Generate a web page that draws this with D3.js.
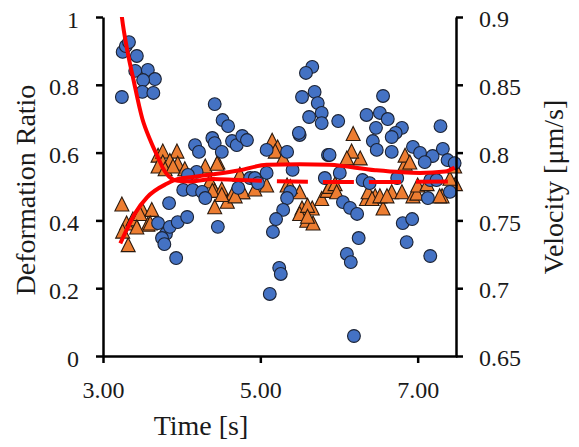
<!DOCTYPE html>
<html><head>
<meta charset="utf-8">
<script src="https://d3js.org/d3.v7.min.js"></script>
<style>
  body { margin: 0; background: #fff; }
  text { font-family: "Liberation Serif", "Times New Roman", serif; fill: #1a1a1a; }
  .axis path, .axis line { stroke: #000; stroke-width: 2.5; }
</style>
</head>
<body>
<svg id="chart" width="579" height="447"></svg>
<script>

// Deformation ratio (left axis), blue circles: [time, ratio]
const ratioPoints = [
  [3.24,0.764],[3.25,0.897],[3.29,0.914],[3.33,0.926],[3.43,0.885],[3.41,0.841],[3.57,0.844],[3.66,0.817],
  [3.51,0.814],[3.50,0.779],[3.64,0.776],
  [4.42,0.743],[4.52,0.696],[4.59,0.678],[4.17,0.622],[4.22,0.602],[4.39,0.643],[4.42,0.628],[4.51,0.602],
  [4.64,0.634],[4.70,0.622],[4.77,0.649],[4.83,0.637],[5.08,0.608],[5.34,0.602],[5.50,0.652],
  [5.66,0.853],[5.58,0.835],[5.53,0.764],[5.69,0.779],[5.73,0.746],[5.78,0.717],[5.62,0.705],[5.78,0.687],
  [5.99,0.693],[5.49,0.658],[5.86,0.593],
  [6.56,0.767],[6.35,0.711],[6.52,0.717],[6.62,0.699],[6.47,0.673],[6.80,0.673],[6.72,0.658],[6.67,0.646],
  [6.43,0.634],[6.48,0.608],[6.67,0.602],[7.29,0.678],[6.94,0.617],[7.03,0.599],[7.19,0.590],[7.32,0.611],
  [7.09,0.572],[7.38,0.578],[7.47,0.569],
  [4.19,0.543],[4.08,0.534],[4.02,0.490],[4.14,0.490],[4.26,0.484],[4.30,0.466],[3.84,0.451],[3.70,0.392],
  [3.80,0.360],[3.75,0.348],[3.78,0.330],[3.85,0.381],[3.95,0.395],[4.07,0.410],[3.93,0.289],[4.46,0.381],
  [4.72,0.496],[4.87,0.525],[4.93,0.525],[4.97,0.510],[5.08,0.540],[5.41,0.549],[5.38,0.484],[5.34,0.466],
  [5.29,0.431],[5.20,0.404],[5.16,0.366],[5.24,0.260],[5.26,0.242],[5.12,0.183],
  [5.82,0.525],[6.01,0.540],[6.30,0.519],[6.39,0.510],[6.05,0.454],[6.14,0.437],[6.23,0.419],[6.25,0.348],
  [6.10,0.301],[6.15,0.277],[6.19,0.059],[6.81,0.392],[6.93,0.404],[6.86,0.336],[7.16,0.295],[6.74,0.525],
  [7.16,0.519],[7.24,0.519],[7.41,0.484],[7.13,0.466],[5.88,0.593]
];

// Velocity (right axis), orange triangles: [time, um/s]
const velocityPoints = [
  [3.24,0.761],[3.50,0.757],[3.62,0.757],[3.30,0.747],[3.38,0.750],[3.47,0.754],[3.57,0.746],[3.32,0.731],
  [3.25,0.741],[3.43,0.744],[3.60,0.747],
  [3.70,0.797],[3.76,0.800],[3.94,0.800],[3.76,0.792],[3.85,0.793],[3.95,0.791],[4.04,0.787],[3.70,0.789],
  [3.79,0.787],[3.89,0.789],
  [4.36,0.778],[4.42,0.771],[4.42,0.759],[4.46,0.792],[4.51,0.772],[4.58,0.763],[4.65,0.769],[4.77,0.770],
  [4.30,0.789],[4.39,0.771],[4.45,0.791],
  [5.15,0.808],[5.22,0.803],[5.19,0.800],[5.29,0.795],[4.51,0.768],[4.74,0.783],[4.78,0.770],[4.68,0.767],
  [5.08,0.775],[5.34,0.775],[5.50,0.770],[5.53,0.758],[5.66,0.758],[5.59,0.749],[5.67,0.747],[5.78,0.765],
  [5.50,0.754],[5.38,0.774],[5.60,0.760],[5.60,0.752],[5.85,0.771],[5.88,0.774],[4.93,0.772],
  [6.35,0.765],[6.46,0.767],[6.56,0.758],[6.67,0.770],[6.80,0.770],[6.94,0.767],[7.31,0.767],[7.48,0.776],
  [6.84,0.791],[6.27,0.795],[6.18,0.813],[6.16,0.800],[6.10,0.795],[5.95,0.776],[5.97,0.770],[6.37,0.770],
  [6.42,0.765],[6.52,0.767],[6.61,0.767],[6.99,0.769],[7.00,0.775],[7.12,0.776],[7.28,0.767],[7.41,0.780],
  [7.47,0.789],[6.84,0.797],[6.90,0.792]
];

// fitted trend lines
const ratioFit = [
  [3.22,1.04],[3.24,1.0],[3.31,0.90],[3.38,0.823],[3.50,0.70],[3.60,0.637],[3.70,0.585],[3.76,0.555],
  [3.86,0.525],[3.95,0.517],[4.10,0.515],[4.40,0.522],[4.70,0.519],[5.02,0.517]
];
const ratioFitTail = [[5.02,0.517],[5.60,0.514],[6.30,0.513],[7.00,0.514],[7.45,0.515]];
const velocityFit = [
  [3.22,0.733],[3.30,0.743],[3.41,0.7555],[3.56,0.767],[3.81,0.777],[3.98,0.781],[4.14,0.782],[4.40,0.784],
  [4.74,0.787],[5.08,0.791],[5.50,0.7915],[5.88,0.791],[6.46,0.787],[7.03,0.785],[7.35,0.786],[7.47,0.789]
];

const timeTicks = [3, 5, 7];
const ratioTicks = [0, 0.2, 0.4, 0.6, 0.8, 1];
const velocityTicks = [0.65, 0.7, 0.75, 0.8, 0.85, 0.9];

const svg = d3.select("#chart");
const plot = {left: 103, right: 457, top: 17, bottom: 356};

const x = d3.scaleLinear().domain([3, 7.5]).range([plot.left, plot.right]);
const yL = d3.scaleLinear().domain([0, 1]).range([plot.bottom, plot.top]);
const yR = d3.scaleLinear().domain([0.65, 0.9]).range([plot.bottom, plot.top]);

svg.append("clipPath").attr("id", "clip")
  .append("rect")
  .attr("x", plot.left).attr("y", plot.top)
  .attr("width", plot.right - plot.left).attr("height", plot.bottom - plot.top);

// markers: triangles first, circles on top
const marks = svg.append("g");

const triShape = "M0,-8.5L7,5.5L-7,5.5Z";
marks.selectAll("path.tri")
  .data(velocityPoints)
  .join("path")
  .attr("class", "tri")
  .attr("d", triShape)
  .attr("transform", d => "translate(" + x(d[0]) + "," + yR(d[1]) + ")")
  .style("fill", "#ED7D31")
  .style("stroke", "#2b1a0e")
  .style("stroke-width", 1.1);

marks.selectAll("circle")
  .data(ratioPoints)
  .join("circle")
  .attr("cx", d => x(d[0]))
  .attr("cy", d => yL(d[1]))
  .attr("r", 6.4)
  .style("fill", "#4472C4")
  .style("stroke", "#1b2233")
  .style("stroke-width", 1.1);

// trend lines
const lines = svg.append("g").attr("clip-path", "url(#clip)");
const lineL = d3.line().x(d => x(d[0])).y(d => yL(d[1])).curve(d3.curveMonotoneX);
const lineR = d3.line().x(d => x(d[0])).y(d => yR(d[1])).curve(d3.curveMonotoneX);

lines.append("path").attr("d", lineL(ratioFit))
  .style("fill", "none").style("stroke", "#FF0000").style("stroke-width", 4);
lines.append("path").attr("d", lineL(ratioFitTail))
  .style("fill", "none").style("stroke", "#FF0000").style("stroke-width", 4)
  .style("stroke-dasharray", "0,15,31,15,31,15,32,15,32,16,30");
lines.append("path").attr("d", lineR(velocityFit))
  .style("fill", "none").style("stroke", "#FF0000").style("stroke-width", 4);

// axes
const fontSize = 24;

const leftAxis = svg.append("g").attr("class", "axis")
  .attr("transform", "translate(" + plot.left + ",0)")
  .call(d3.axisLeft(yL).tickValues(ratioTicks).tickSize(7).tickSizeOuter(0)
        .tickPadding(17).tickFormat(d3.format("")));

const rightAxis = svg.append("g").attr("class", "axis")
  .attr("transform", "translate(" + (plot.right - 1) + ",0)")
  .call(d3.axisRight(yR).tickValues(velocityTicks).tickSize(7).tickSizeOuter(0)
        .tickPadding(16).tickFormat(d3.format("")));

const bottomAxis = svg.append("g").attr("class", "axis")
  .attr("transform", "translate(0," + plot.bottom + ")")
  .call(d3.axisBottom(x).tickValues(timeTicks).tickSize(7).tickSizeOuter(0)
        .tickFormat(d3.format(".2f")));

svg.selectAll(".axis text")
  .style("font-family", '"Liberation Serif", serif')
  .style("font-size", fontSize + "px")
  .style("fill", "#1a1a1a");

leftAxis.selectAll("text").attr("dy", "0.42em");
rightAxis.selectAll("text").attr("dy", "0.4em");
bottomAxis.selectAll("text").attr("y", 42).attr("dy", 0);

// axis titles
svg.append("text")
  .attr("transform", "translate(35,190) rotate(-90)")
  .attr("text-anchor", "middle")
  .style("font-size", "28px")
  .text("Deformation Ratio");

svg.append("text")
  .attr("transform", "translate(563,187) rotate(-90)")
  .attr("text-anchor", "middle")
  .style("font-size", "28px")
  .text("Velocity [μm/s]");

svg.append("text")
  .attr("x", 201).attr("y", 435)
  .attr("text-anchor", "middle")
  .style("font-size", "28px")
  .text("Time [s]");

</script>
</body>
</html>
